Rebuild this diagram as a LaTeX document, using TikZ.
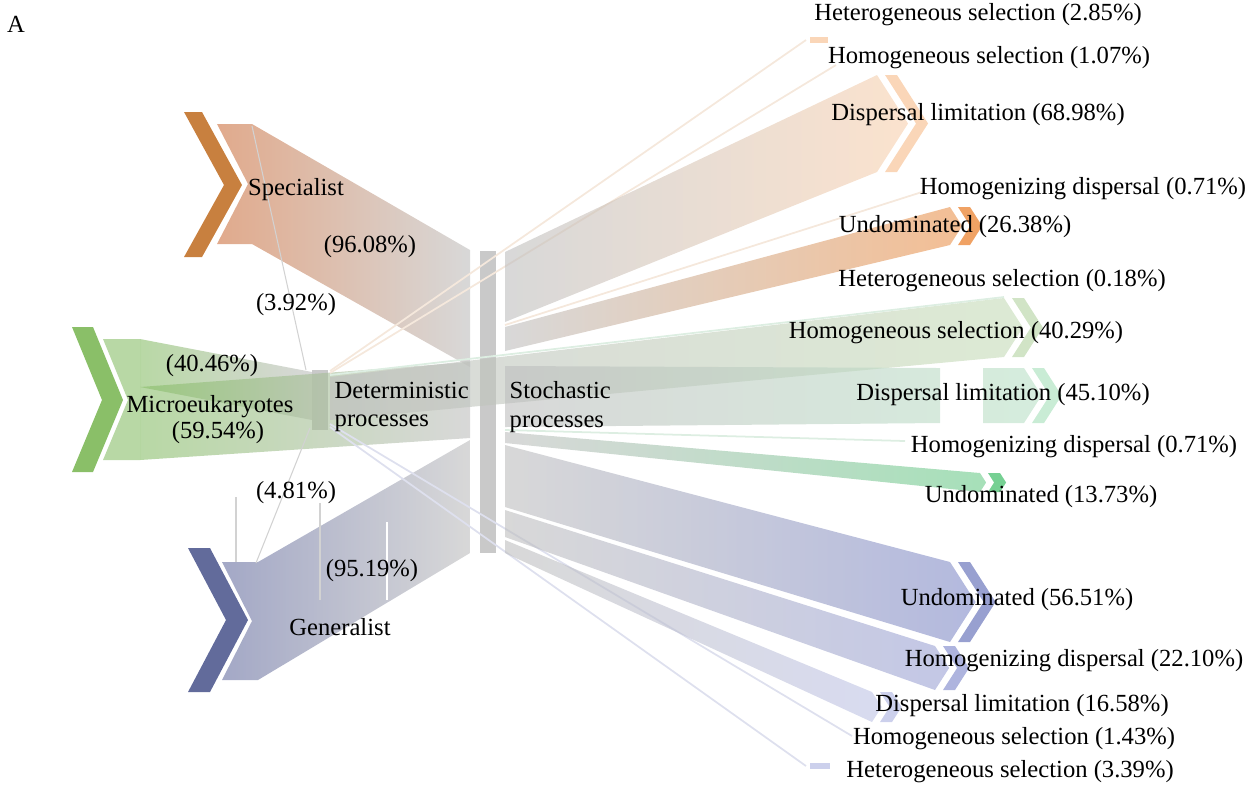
\documentclass[tikz,border=0pt]{standalone}
\usepackage{fontspec}
\setmainfont{Liberation Serif}

% colours (flows are drawn at fill opacity 0.6)
\definecolor{barc}{HTML}{C9C9C9}
\definecolor{flowgray}{HTML}{BEBEBE}
\definecolor{linegray}{HTML}{D2D2D2}
\definecolor{specdark}{HTML}{C8803F}
\definecolor{speclight}{HTML}{CD713F}
\definecolor{microdark}{HTML}{8ABF68}
\definecolor{microlight}{HTML}{89BE69}
\definecolor{gendark}{HTML}{626B9B}
\definecolor{genlight}{HTML}{666EA0}
% stochastic / deterministic targets
\definecolor{oDLend}{HTML}{F8CFAD}\definecolor{oDLchev}{HTML}{FAD6B8}
\definecolor{oUNend}{HTML}{EB934D}\definecolor{oUNchev}{HTML}{F0A264}
\definecolor{oThin}{HTML}{F5E8DC}
\definecolor{gHSend}{HTML}{C5DCB7}\definecolor{gHSchev}{HTML}{D1E4C6}
\definecolor{gDLend}{HTML}{B9E1C6}\definecolor{gDLchev}{HTML}{C9ECD5}
\definecolor{gUNend}{HTML}{6BCB8A}\definecolor{gUNchev}{HTML}{76D093}
\definecolor{gThin}{HTML}{DDEEE2}
\definecolor{bUNend}{HTML}{808AC8}\definecolor{bUNchev}{HTML}{98A0D0}
\definecolor{bHDend}{HTML}{9BA2D5}\definecolor{bHDchev}{HTML}{AEB4DE}
\definecolor{bDLend}{HTML}{BEC3E6}\definecolor{bDLchev}{HTML}{CCD0EC}
\definecolor{bThin}{HTML}{DEE0EE}

\tikzset{
  lbl/.style={font=\fontsize{7}{8}\selectfont, inner sep=0pt},
  flow/.style={fill opacity=0.6},
  thinlink/.style={line width=0.5pt},
}

% flow from a bar to a target, ending in a point
\newcommand{\tgtflow}[7]{%
  \shade[flow, left color=flowgray, right color=#7]
    (#1,#2) -- (#4,#5) -- ({#4+0.32*(#6-#5)},{(#5+#6)/2}) -- (#4,#6) -- (#1,#3) -- cycle;}
% chevron of a target
\newcommand{\tgtchev}[4]{%
  \fill[#4] (#1+8,#2) -- (#1+20,#2) -- ({#1+20+0.32*(#3-#2)},{(#2+#3)/2})
    -- (#1+20,#3) -- (#1+8,#3) -- ({#1+8+0.32*(#3-#2)},{(#2+#3)/2}) -- cycle;}

\begin{document}
\begin{tikzpicture}[x=0.01cm, y=-0.01cm]
\useasboundingbox (0,0) rectangle (1249,787);

% Process bars
\fill[barc] (312,370) rectangle (328,430);
\fill[barc] (480,251) rectangle (496,553);

% Specialist
\fill[specdark] (184,112) -- (202,112) -- (242,185) -- (202,257) -- (184,257) -- (224,185) -- cycle;
\shade[flow, left color=speclight, right color=flowgray]
  (217,124) -- (252,124) -- (470,250) -- (470,367) -- (252,244) -- (217,244) -- (248,184) -- cycle;

% Microeukaryotes
\fill[microdark] (72,327) -- (93,327) -- (123,400) -- (93,472) -- (72,472) -- (102,400) -- cycle;
\fill[flow, microlight] (103,339) -- (140,339) -- (140,460) -- (103,460) -- (128,400) -- cycle;
\shade[flow, left color=microlight, right color=flowgray]
  (140,339) -- (312,372) -- (312,420) -- (140,387) -- cycle;
\shade[flow, left color=microlight, right color=flowgray]
  (140,387) -- (470,362) -- (470,438) -- (140,460) -- cycle;

% Generalist
\fill[gendark] (188,548) -- (210,548) -- (248,620) -- (210,692) -- (188,692) -- (226,620) -- cycle;
\shade[flow, left color=genlight, right color=flowgray]
  (222,562) -- (258,562) -- (470,440) -- (470,553) -- (258,680) -- (222,680) -- (252,621) -- cycle;
\draw[white, line width=0.7pt] (387,522) -- (387,600);
\draw[linegray, line width=0.3pt] (236,497) -- (236,562);
\draw[linegray, line width=0.3pt] (320,503) -- (320,600);

% Thin flows into deterministic processes
\draw[linegray, line width=0.3pt] (252,126) -- (306,370);
\draw[linegray, line width=0.3pt] (256,563) -- (310,428);

% Deterministic processes -> selection
\draw[thinlink, oThin] (330,371) -- (806,40);
\fill[oDLchev] (810,37) rectangle (828,43);
\draw[thinlink, oThin] (330,373) -- (836,65);
\draw[thinlink, gThin] (330,375) -- (1004,297);
\tgtflow{330}{377}{420}{1004}{298}{357}{gHSend}
\tgtchev{1004}{298}{357}{gHSchev}
\draw[thinlink, bThin] (330,424) -- (852,736);
\draw[thinlink, bThin] (330,427) -- (806,766);
\fill[bDLchev] (810,763) rectangle (830,769);

% Stochastic processes -> dispersal / undominated
\tgtflow{505}{252}{322}{877}{75}{172}{oDLend}
\tgtchev{877}{75}{172}{oDLchev}
\draw[thinlink, oThin] (505,325) -- (922,192);
\tgtflow{505}{327}{351}{950}{207}{245}{oUNend}
\tgtchev{950}{207}{245}{oUNchev}

\shade[flow, left color=flowgray, right color=gDLend]
  (505,366) -- (940,368) -- (940,423) -- (505,427) -- cycle
  (983,368) -- (1024,368) -- (1041.6,395.5) -- (1024,423) -- (983,423) -- cycle;
\tgtchev{1024}{368}{423}{gDLchev}
\draw[thinlink, gThin] (505,430) -- (905,441);
\tgtflow{505}{432}{443}{980}{473}{492}{gUNend}
\tgtchev{980}{473}{492}{gUNchev}

\tgtflow{505}{445}{507}{950}{562}{642}{bUNend}
\tgtchev{950}{562}{642}{bUNchev}
\tgtflow{505}{510}{537}{935}{646}{690}{bHDend}
\tgtchev{935}{646}{690}{bHDchev}
\tgtflow{505}{540}{553}{872}{692}{722}{bDLend}
\tgtchev{872}{692}{722}{bDLchev}

% Labels
\node[lbl] (panel) at (16,24) {A};
\node[lbl] (spec) at (296,190) {Specialist};
\node[lbl] (specS) at (370,247) {(96.08\%)};
\node[lbl] (specD) at (296,305) {(3.92\%)};
\node[lbl] (microD) at (212,366) {(40.46\%)};
\node[lbl] (micro) at (210,407) {Microeukaryotes};
\node[lbl] (microS) at (218,433) {(59.54\%)};
\node[lbl] (genD) at (296,493) {(4.81\%)};
\node[lbl] (genS) at (372,571) {(95.19\%)};
\node[lbl] (gen) at (340,627) {Generalist};
\node[lbl, anchor=west, align=left] (det) at (334,407) {Deterministic\\processes};
\node[lbl, anchor=west, align=left] (stoch) at (509,407) {Stochastic\\processes};

\node[lbl] (oHetS) at (978,15) {Heterogeneous selection (2.85\%)};
\node[lbl] (oHomS) at (989,58) {Homogeneous selection (1.07\%)};
\node[lbl] (oDL) at (978,115) {Dispersal limitation (68.98\%)};
\node[lbl] (oHD) at (1083,189) {Homogenizing dispersal (0.71\%)};
\node[lbl] (oUN) at (955,227) {Undominated (26.38\%)};
\node[lbl] (gHetS) at (1002,281) {Heterogeneous selection (0.18\%)};
\node[lbl] (gHomS) at (956,333) {Homogeneous selection (40.29\%)};
\node[lbl] (gDL) at (1003,395) {Dispersal limitation (45.10\%)};
\node[lbl] (gHD) at (1074,447) {Homogenizing dispersal (0.71\%)};
\node[lbl] (gUN) at (1041,497) {Undominated (13.73\%)};
\node[lbl] (bUN) at (1017,600) {Undominated (56.51\%)};
\node[lbl] (bHD) at (1074,661) {Homogenizing dispersal (22.10\%)};
\node[lbl] (bDL) at (1022,706) {Dispersal limitation (16.58\%)};
\node[lbl] (bHomS) at (1014,739) {Homogeneous selection (1.43\%)};
\node[lbl] (bHetS) at (1010,772) {Heterogeneous selection (3.39\%)};
\end{tikzpicture}
\end{document}
